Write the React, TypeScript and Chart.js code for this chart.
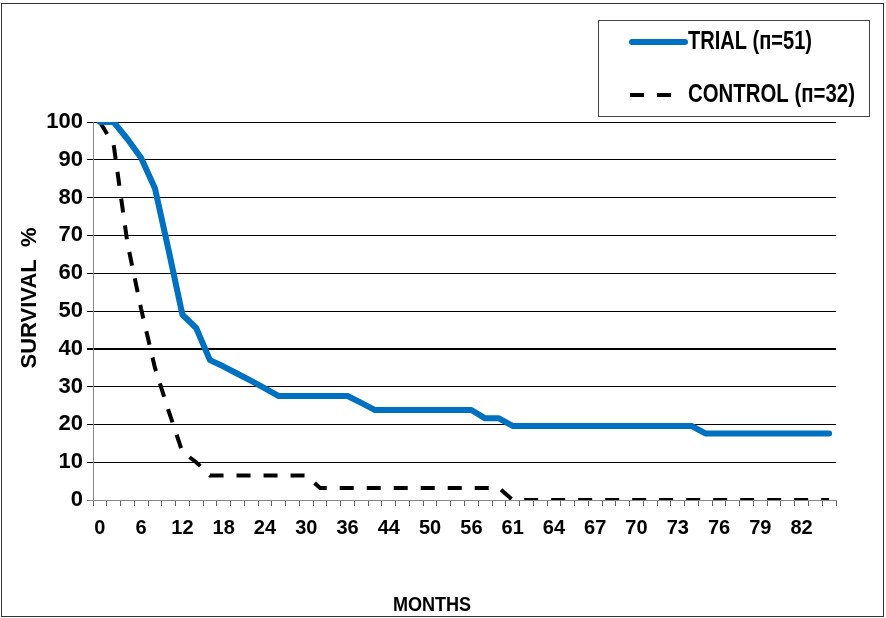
import React, { useEffect, useRef } from "react";
import { Chart, registerables } from "chart.js";

Chart.register(...registerables);

// Month categories (labelled every third one, as in the reference)
const MONTHS: number[] = [
  0, 2, 4, 6, 8, 10, 12, 14, 16, 18, 20, 22, 24, 26, 28, 30, 32, 34, 36,
  38, 41, 44, 46, 48, 50, 52, 54, 56, 58, 59,
  61, 62, 63, 64, 65, 66, 67, 68, 69, 70, 71, 72, 73, 74, 75, 76, 77, 78, 79, 80, 81, 82, 83, 84,
];

const TRIAL: number[] = [
  100, 100, 95.5, 90.5, 82.5, 66, 49, 45.5, 37, 35.3, 33.4, 31.5, 29.5,
  27.5, 27.5, 27.5, 27.5, 27.5, 27.5, 25.7,
  23.8, 23.8, 23.8, 23.8, 23.8, 23.8, 23.8, 23.8,
  21.6, 21.6,
  19.6, 19.6, 19.6, 19.6, 19.6, 19.6, 19.6, 19.6, 19.6, 19.6, 19.6, 19.6, 19.6, 19.6,
  17.6, 17.6, 17.6, 17.6, 17.6, 17.6, 17.6, 17.6, 17.6, 17.6,
];

const CONTROL: number[] = [
  100, 94, 68, 50.5, 35, 23.5, 12.7, 10,
  6.5, 6.5, 6.5, 6.5, 6.5, 6.5, 6.5, 6.5,
  3.2, 3.2, 3.2, 3.2, 3.2, 3.2, 3.2, 3.2, 3.2, 3.2, 3.2, 3.2, 3.2, 3.2,
  0, 0, 0, 0, 0, 0, 0, 0, 0, 0, 0, 0, 0, 0, 0, 0, 0, 0, 0, 0, 0, 0, 0, 0,
];

const SERIES_LABELS = ["TRIAL (п=51)", "CONTROL (п=32)"];
const Y_TITLE = "SURVIVAL  %";
const X_TITLE = "MONTHS";

const AXIS_FONT = '"Liberation Sans", Arial, sans-serif';
const LEGEND_FONT = '"Liberation Sans", Arial, sans-serif';
const LEGEND_TEXT_WIDTHS = [124, 167];

const framePlugin = {
  id: "frameAndTitles",
  afterDraw(chart: any) {
    const ctx = chart.ctx;
    ctx.save();
    // outer frame
    ctx.strokeStyle = "#333";
    ctx.lineWidth = 1;
    ctx.strokeRect(1.5, 3.5, 882, 613);

    // axis titles
    ctx.fillStyle = "#000";
    ctx.font = `bold 19px ${AXIS_FONT}`;
    ctx.textAlign = "center";
    ctx.textBaseline = "middle";
    ctx.save();
    ctx.translate(432, 605);
    ctx.scale(0.95, 1.1);
    ctx.fillText(X_TITLE, 0, 0);
    ctx.restore();

    ctx.save();
    ctx.translate(30, 298);
    ctx.rotate(-Math.PI / 2);
    ctx.font = `bold 22px ${AXIS_FONT}`;
    ctx.fillText(Y_TITLE, 0, 0);
    ctx.restore();

    // legend box
    ctx.strokeStyle = "#444";
    ctx.lineWidth = 1;
    ctx.strokeRect(598.5, 20.5, 271, 96);
    const rows = [42, 95];
    chart.data.datasets.forEach((ds: any, i: number) => {
      const y = rows[i];
      ctx.save();
      ctx.strokeStyle = ds.borderColor;
      ctx.lineWidth = ds.borderWidth;
      const dashed = ds.borderDash && ds.borderDash.length;
      ctx.lineCap = dashed ? "butt" : "round";
      ctx.setLineDash(ds.borderDash || []);
      ctx.beginPath();
      if (dashed) {
        ctx.moveTo(630, y);
        ctx.lineTo(672, y);
      } else {
        ctx.moveTo(632, y);
        ctx.lineTo(685, y);
      }
      ctx.stroke();
      ctx.restore();

      ctx.save();
      ctx.fillStyle = "#000";
      ctx.font = `bold 25px ${LEGEND_FONT}`;
      ctx.textAlign = "left";
      ctx.textBaseline = "middle";
      const w = ctx.measureText(ds.label).width;
      const target = LEGEND_TEXT_WIDTHS[i];
      ctx.translate(688, y);
      ctx.scale(target / w, 1);
      ctx.fillText(ds.label, 0, 0);
      ctx.restore();
    });
    ctx.restore();
  },
};

export default function App() {
  const ref = useRef<HTMLCanvasElement | null>(null);

  useEffect(() => {
    if (!ref.current) return;
    const chart = new Chart(ref.current, {
      type: "line",
      data: {
        labels: MONTHS.map(String),
        datasets: [
          {
            label: SERIES_LABELS[0],
            data: TRIAL,
            borderColor: "#0070C0",
            backgroundColor: "#0070C0",
            borderWidth: 6,
            borderDash: [],
            pointRadius: 0,
            tension: 0,
            borderJoinStyle: "round",
            borderCapStyle: "round",
          },
          {
            label: SERIES_LABELS[1],
            data: CONTROL,
            borderColor: "#000000",
            backgroundColor: "#000000",
            borderWidth: 4,
            borderDash: [14, 13],
            pointRadius: 0,
            tension: 0,
          },
        ],
      },
      options: {
        responsive: false,
        animation: false,
        devicePixelRatio: 1,
        layout: { padding: { top: 122, right: 50, bottom: 0, left: 0 } },
        plugins: {
          legend: { display: false },
          tooltip: { enabled: false },
          title: { display: false },
        },
        scales: {
          x: {
            type: "category",
            offset: true,
            grid: {
              offset: true,
              drawOnChartArea: false,
              drawTicks: true,
              tickLength: 6,
              color: "#666",
              tickColor: "#666",
            },
            border: { display: true, color: "#888", width: 1 },
            ticks: {
              autoSkip: false,
              maxRotation: 0,
              minRotation: 0,
              padding: 10,
              color: "#000",
              font: { family: AXIS_FONT, size: 20, weight: "bold" },
              callback: (_v: any, idx: number) => (idx % 3 === 0 ? String(MONTHS[idx]) : ""),
            },
            afterFit: (s: any) => {
              s.height = 118;
            },
          },
          y: {
            min: 0,
            max: 100,
            grid: {
              color: (c: any) => (c.tick && c.tick.value === 0 ? "#888" : "#000"),
              lineWidth: (c: any) => (c.tick && c.tick.value === 40 ? 2 : 1),
              tickLength: 6,
              drawTicks: true,
            },
            border: { display: true, color: "#888", width: 1 },
            ticks: {
              stepSize: 10,
              padding: 4,
              color: "#000",
              font: { family: AXIS_FONT, size: 22, weight: "bold" },
            },
            afterFit: (s: any) => {
              s.width = 93;
            },
          },
        },
      },
      plugins: [framePlugin],
    } as any);
    return () => chart.destroy();
  }, []);

  return (
    <div style={{ position: "fixed", left: 0, top: 0, width: 886, height: 618, background: "#fff" }}>
      <canvas ref={ref} width={886} height={618} style={{ width: 886, height: 618, display: "block" }} />
    </div>
  );
}
